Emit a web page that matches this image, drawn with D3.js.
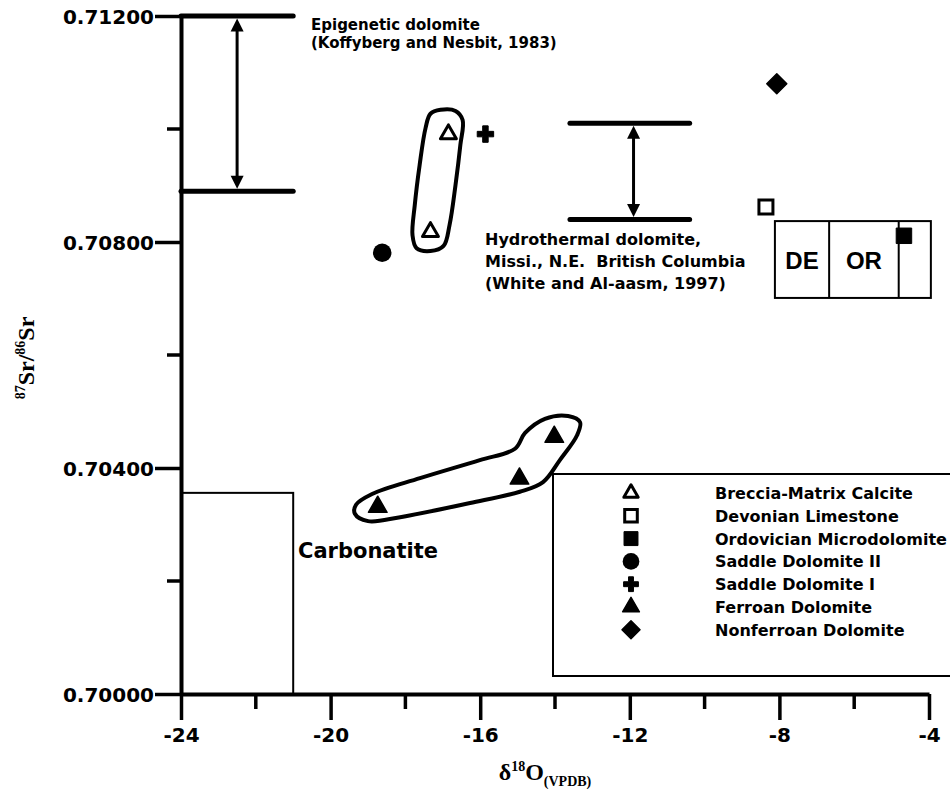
<!DOCTYPE html>
<html>
<head>
<meta charset="utf-8">
<script src="https://cdn.jsdelivr.net/npm/d3@7/dist/d3.min.js"></script>
<style>
  html, body { margin: 0; padding: 0; background: #fff; }
  svg { display: block; }
  .lbl { font-family: "DejaVu Sans", sans-serif; font-weight: bold; fill: #000; white-space: pre; }
</style>
</head>
<body>
<svg id="chart" width="950" height="798"></svg>
<script>
// ---- data -------------------------------------------------------------
const xMajorTicks = [-24, -20, -16, -12, -8, -4];
const xTickLabels = ["-24", "-20", "-16", "-12", "-8", "-4"];
const xMinorTicks = [-22, -18, -14, -10, -6];
const yMajorTicks = [0.700, 0.704, 0.708, 0.712];
const yTickLabels = ["0.70000", "0.70400", "0.70800", "0.71200"];
const yMinorTicks = [0.702, 0.706, 0.710];

// sample groups: d18O (VPDB), 87Sr/86Sr
const brecciaMatrixCalcite = [[-16.85, 0.70991], [-17.33, 0.70818]];
const devonianLimestone    = [[-8.36, 0.70862]];
const ordovicianMicrodol   = [[-4.67, 0.70811]];
const saddleDolomiteII     = [[-18.62, 0.70781]];
const saddleDolomiteI      = [[-15.86, 0.70991]];
const ferroanDolomite      = [[-18.74, 0.70331], [-14.95, 0.70381], [-14.02, 0.70455]];
const nonferroanDolomite   = [[-8.07, 0.71080]];

// reference ranges
const epigeneticRange   = { x0: -24, x1: -21, lo: 0.7089, hi: 0.7120, xArrow: -22.5 };
const hydrothermalRange = { x0: -13.6, x1: -10.4, lo: 0.7084, hi: 0.7101, xArrow: -11.9 };
const carbonatiteBox    = { x0: -24, x1: -21, lo: 0.700, hi: 0.70356 };
const seawaterBox       = { x0: -8.12, x1: -3.95, lo: 0.70701, hi: 0.70837, dividers: [-6.67, -4.81] };

// hand-drawn outlines around sample groups
const brecciaOutline = [
  [-17.06, 0.71034], [-16.66, 0.71032], [-16.47, 0.71016], [-16.53, 0.70972],
  [-16.66, 0.70901], [-16.82, 0.70830], [-16.98, 0.70793], [-17.33, 0.70784],
  [-17.70, 0.70789], [-17.81, 0.70812], [-17.75, 0.70865], [-17.62, 0.70936],
  [-17.46, 0.71002], [-17.33, 0.71027]
];
const ferroanOutline = [
  [-19.32, 0.70335], [-18.89, 0.70354], [-17.61, 0.70382], [-16.01, 0.70414],
  [-15.07, 0.70434], [-14.80, 0.70462], [-14.27, 0.70487], [-13.65, 0.70492],
  [-13.33, 0.70481], [-13.41, 0.70458], [-13.87, 0.70414], [-14.32, 0.70375],
  [-14.94, 0.70358], [-16.27, 0.70338], [-18.14, 0.70313], [-19.00, 0.70306],
  [-19.35, 0.70319]
];

const legendNames = [
  "Breccia-Matrix Calcite", "Devonian Limestone", "Ordovician Microdolomite",
  "Saddle Dolomite II", "Saddle Dolomite I", "Ferroan Dolomite", "Nonferroan Dolomite"
];
const legendKinds = ["openTri", "openSq", "fillSq", "circle", "plus", "fillTri", "diamond"];

// ---- scales -----------------------------------------------------------
const svg = d3.select("#chart");
const x = d3.scaleLinear().domain([-24, -4]).range([181, 929]);
const y = d3.scaleLinear().domain([0.700, 0.712]).range([694, 16]);

// ---- marker drawing ---------------------------------------------------
function marker(g, kind, cx, cy, s) {
  s = s || 1;
  const t = `translate(${cx},${cy})`;
  switch (kind) {
    case "openTri":
      g.append("path").attr("transform", t)
        .attr("d", d3.symbol(d3.symbolTriangle, 110 * s * s)())
        .attr("fill", "#fff").attr("stroke", "#000").attr("stroke-width", 3).attr("stroke-linejoin", "round");
      break;
    case "fillTri":
      g.append("path").attr("transform", t)
        .attr("d", d3.symbol(d3.symbolTriangle, 150 * s * s)())
        .attr("fill", "#000").attr("stroke", "#000").attr("stroke-width", 1.5).attr("stroke-linejoin", "round");
      break;
    case "openSq":
      g.append("path").attr("transform", t)
        .attr("d", d3.symbol(d3.symbolSquare, 196 * s * s)())
        .attr("fill", "#fff").attr("stroke", "#000").attr("stroke-width", 3);
      break;
    case "fillSq":
      g.append("path").attr("transform", t)
        .attr("d", d3.symbol(d3.symbolSquare, 240 * s * s)())
        .attr("fill", "#000").attr("stroke", "#000").attr("stroke-width", 1).attr("stroke-linejoin", "round");
      break;
    case "circle":
      g.append("path").attr("transform", t)
        .attr("d", d3.symbol(d3.symbolCircle, 270 * s * s)())
        .attr("fill", "#000");
      break;
    case "plus":
      g.append("path").attr("transform", t)
        .attr("d", d3.symbol(d3.symbolCross, 150 * s * s)())
        .attr("fill", "#000").attr("stroke", "#000").attr("stroke-width", 1).attr("stroke-linejoin", "round");
      break;
    case "diamond":
      g.append("path").attr("transform", t + " rotate(45)")
        .attr("d", d3.symbol(d3.symbolSquare, 200 * s * s)())
        .attr("fill", "#000").attr("stroke", "#000").attr("stroke-width", 1.5).attr("stroke-linejoin", "round");
      break;
  }
}

// ---- boxes ------------------------------------------------------------
const boxes = svg.append("g").attr("fill", "none").attr("stroke", "#000").attr("stroke-width", 2);
boxes.append("rect")
  .attr("x", x(carbonatiteBox.x0)).attr("y", y(carbonatiteBox.hi))
  .attr("width", x(carbonatiteBox.x1) - x(carbonatiteBox.x0))
  .attr("height", y(carbonatiteBox.lo) - y(carbonatiteBox.hi));
boxes.append("rect")
  .attr("x", x(seawaterBox.x0)).attr("y", y(seawaterBox.hi))
  .attr("width", x(seawaterBox.x1) - x(seawaterBox.x0))
  .attr("height", y(seawaterBox.lo) - y(seawaterBox.hi));
seawaterBox.dividers.forEach(d => {
  boxes.append("line").attr("x1", x(d)).attr("x2", x(d))
    .attr("y1", y(seawaterBox.hi)).attr("y2", y(seawaterBox.lo));
});
svg.append("text").attr("class", "lbl")
  .attr("x", (x(seawaterBox.x0) + x(seawaterBox.dividers[0])) / 2)
  .attr("y", (y(seawaterBox.hi) + y(seawaterBox.lo)) / 2 + 9)
  .attr("text-anchor", "middle").style("font-family", "'Liberation Sans', Arial, sans-serif")
  .style("font-size", "24px").text("DE");
svg.append("text").attr("class", "lbl")
  .attr("x", (x(seawaterBox.dividers[0]) + x(seawaterBox.dividers[1])) / 2)
  .attr("y", (y(seawaterBox.hi) + y(seawaterBox.lo)) / 2 + 9)
  .attr("text-anchor", "middle").style("font-family", "'Liberation Sans', Arial, sans-serif")
  .style("font-size", "24px").text("OR");

svg.append("text").attr("class", "lbl").attr("x", 298).attr("y", 558)
  .style("font-size", "21px").text("Carbonatite");

// ---- range bars with double arrows -----------------------------------
function rangeBar(r) {
  const g = svg.append("g");
  [r.lo, r.hi].forEach(v => {
    g.append("line").attr("x1", x(r.x0)).attr("x2", x(r.x1))
      .attr("y1", y(v)).attr("y2", y(v))
      .attr("stroke", "#000").attr("stroke-width", 5).attr("stroke-linecap", "round");
  });
  const ax = x(r.xArrow), yt = y(r.hi) + 2.5, yb = y(r.lo) - 2.5, hl = 13, hw = 6.5;
  g.append("line").attr("x1", ax).attr("x2", ax).attr("y1", yt + hl - 2).attr("y2", yb - hl + 2)
    .attr("stroke", "#000").attr("stroke-width", 3);
  g.append("path").attr("d", `M${ax},${yt} L${ax - hw},${yt + hl} L${ax + hw},${yt + hl} Z`).attr("fill", "#000");
  g.append("path").attr("d", `M${ax},${yb} L${ax - hw},${yb - hl} L${ax + hw},${yb - hl} Z`).attr("fill", "#000");
}
rangeBar(epigeneticRange);
rangeBar(hydrothermalRange);

function multiline(lines, x0, y0, lh, size) {
  const t = svg.append("text").attr("class", "lbl").style("font-size", size + "px");
  lines.forEach((s, i) => {
    t.append("tspan").attr("x", x0).attr("y", y0 + i * lh).text(s);
  });
}
multiline(["Epigenetic dolomite", "(Koffyberg and Nesbit, 1983)"], 311, 30, 17.5, 15);
multiline(["Hydrothermal dolomite,", "Missi., N.E.  British Columbia", "(White and Al-aasm, 1997)"], 485, 245, 22, 16);

// ---- outlines ---------------------------------------------------------
const outline = d3.line().x(d => x(d[0])).y(d => y(d[1])).curve(d3.curveCatmullRomClosed.alpha(0.5));
[brecciaOutline, ferroanOutline].forEach(o => {
  svg.append("path").attr("d", outline(o))
    .attr("fill", "none").attr("stroke", "#000").attr("stroke-width", 4).attr("stroke-linejoin", "round");
});

// ---- legend box -------------------------------------------------------
const leg = svg.append("g");
leg.append("rect").attr("x", 553).attr("y", 474).attr("width", 420).attr("height", 202)
  .attr("fill", "#fff").attr("stroke", "#000").attr("stroke-width", 2);
legendNames.forEach((name, i) => {
  const ry = 493 + i * 22.8;
  marker(leg, legendKinds[i], 631, ry, 0.9);
  leg.append("text").attr("class", "lbl").attr("x", 715).attr("y", ry + 6)
    .style("font-size", "16px").text(name);
});

// ---- data points ------------------------------------------------------
const pts = svg.append("g");
const groups = [
  [brecciaMatrixCalcite, "openTri"], [devonianLimestone, "openSq"],
  [ordovicianMicrodol, "fillSq"], [saddleDolomiteII, "circle"],
  [saddleDolomiteI, "plus"], [ferroanDolomite, "fillTri"], [nonferroanDolomite, "diamond"]
];
groups.forEach(([data, kind]) => {
  data.forEach(d => marker(pts, kind, x(d[0]), y(d[1]), 1));
});

// ---- axes -------------------------------------------------------------
const xAxis = svg.append("g").attr("transform", `translate(0,${y(0.700)})`)
  .call(d3.axisBottom(x).tickValues(xMajorTicks).tickSize(26).tickSizeOuter(0).tickPadding(8)
    .tickFormat((d, i) => xTickLabels[i]));
xAxis.append("g").selectAll("line").data(xMinorTicks).join("line")
  .attr("x1", d => x(d)).attr("x2", d => x(d)).attr("y1", 0).attr("y2", 15);

const yAxis = svg.append("g").attr("transform", `translate(${x(-24)},0)`)
  .call(d3.axisLeft(y).tickValues(yMajorTicks).tickSize(26).tickSizeOuter(0).tickPadding(1)
    .tickFormat((d, i) => yTickLabels[i]));
yAxis.append("g").selectAll("line").data(yMinorTicks).join("line")
  .attr("x1", 0).attr("x2", -14).attr("y1", d => y(d)).attr("y2", d => y(d));

[xAxis, yAxis].forEach(a => {
  a.select(".domain").attr("stroke", "#000").attr("stroke-width", 4);
  a.selectAll("line").attr("stroke", "#000").attr("stroke-width", 3.5);
  a.selectAll("text").attr("class", "lbl").attr("fill", "#000")
    .style("font-size", "20px").style("font-family", "'DejaVu Sans', sans-serif").style("font-weight", "bold");
});
yAxis.selectAll(".tick text").attr("dy", "0.36em");

// ---- axis titles ------------------------------------------------------
const serif = "'Liberation Serif', 'Times New Roman', serif";
const yt = svg.append("text").attr("transform", "translate(34,358) rotate(-90)")
  .attr("text-anchor", "middle").style("font-family", serif).style("font-weight", "bold")
  .style("font-size", "24px");
yt.append("tspan").style("font-size", "14px").attr("dy", "-9").text("87");
yt.append("tspan").attr("dy", "9").text("Sr/");
yt.append("tspan").style("font-size", "14px").attr("dy", "-9").text("86");
yt.append("tspan").attr("dy", "9").text("Sr");

const xt = svg.append("text").attr("x", 545).attr("y", 780)
  .attr("text-anchor", "middle").style("font-family", serif).style("font-weight", "bold")
  .style("font-size", "24px");
xt.append("tspan").text("δ");
xt.append("tspan").style("font-size", "14px").attr("dy", "-9").text("18");
xt.append("tspan").attr("dy", "9").text("O");
xt.append("tspan").style("font-size", "14px").attr("dy", "6").text("(VPDB)");
</script>
</body>
</html>
